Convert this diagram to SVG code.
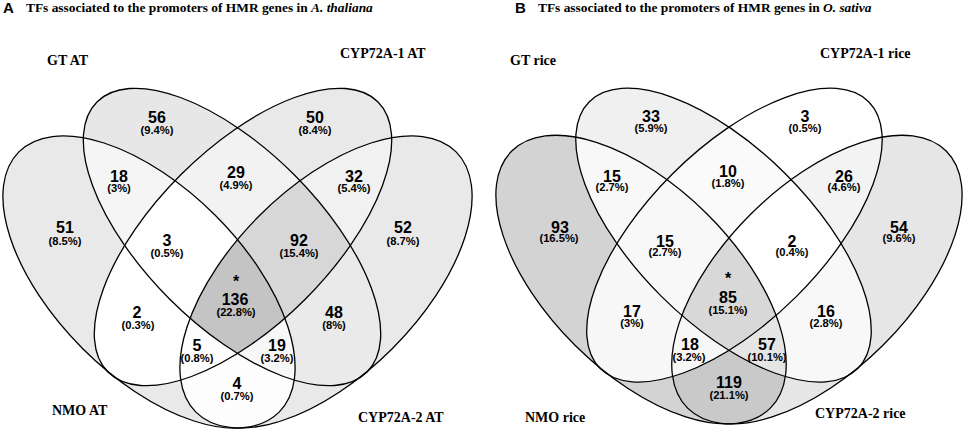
<svg xmlns="http://www.w3.org/2000/svg" xmlns:xlink="http://www.w3.org/1999/xlink" width="964" height="430" viewBox="0 0 964 430">
<style>
.ol{fill:none;stroke:#000;stroke-width:1.3}
.n{font-family:"Liberation Sans",Arial,sans-serif;font-weight:bold;font-size:16px;text-anchor:middle;fill:#000}
.p{font-family:"Liberation Sans",Arial,sans-serif;font-weight:bold;font-size:11.2px;text-anchor:middle;fill:#000}
.st{font-family:"Liberation Sans",Arial,sans-serif;font-weight:bold;font-size:16px;text-anchor:middle;fill:#000}
.t{font-family:"Liberation Serif","Times New Roman",serif;font-weight:bold;font-size:13.4px;fill:#000}
.lab{font-family:"Liberation Serif","Times New Roman",serif;font-weight:bold;font-size:14px;fill:#000}
.pl{font-family:"Liberation Sans",Arial,sans-serif;font-weight:bold;font-size:15px;fill:#000}
</style>
<defs>
<ellipse id="e1" cx="149" cy="282" rx="184" ry="94" transform="rotate(45 149 282)"/>
<ellipse id="e2" cx="232" cy="237" rx="191" ry="88" transform="rotate(45 232 237)"/>
<ellipse id="e3" cx="243" cy="237" rx="191" ry="88" transform="rotate(-45 243 237)"/>
<ellipse id="e4" cx="326" cy="282" rx="184" ry="94" transform="rotate(-45 326 282)"/>
<clipPath id="c1"><use href="#e1"/></clipPath>
<clipPath id="c2"><use href="#e2"/></clipPath>
<clipPath id="c3"><use href="#e3"/></clipPath>
</defs>
<rect width="964" height="430" fill="#fff"/>

<!-- Panel A -->
<g id="panelA">
<g id="A-regions">
<use href="#e1" fill="#e9e9e9"/>
<use href="#e2" fill="#e7e7e7"/>
<use href="#e3" fill="#e9e9e9"/>
<use href="#e4" fill="#e9e9e9"/>
<g clip-path="url(#c1)"><use href="#e2" fill="#f5f5f5"/></g>
<g clip-path="url(#c2)"><use href="#e3" fill="#f2f2f2"/></g>
<g clip-path="url(#c3)"><use href="#e4" fill="#f1f1f1"/></g>
<g clip-path="url(#c1)"><use href="#e3" fill="#fefefe"/></g>
<g clip-path="url(#c2)"><use href="#e4" fill="#eaeaea"/></g>
<g clip-path="url(#c1)"><use href="#e4" fill="#fdfdfd"/></g>
<g clip-path="url(#c1)"><g clip-path="url(#c2)"><use href="#e3" fill="#fefefe"/></g></g>
<g clip-path="url(#c2)"><g clip-path="url(#c3)"><use href="#e4" fill="#d7d7d7"/></g></g>
<g clip-path="url(#c1)"><g clip-path="url(#c3)"><use href="#e4" fill="#fdfdfd"/></g></g>
<g clip-path="url(#c1)"><g clip-path="url(#c2)"><use href="#e4" fill="#f7f7f7"/></g></g>
<g clip-path="url(#c1)"><g clip-path="url(#c2)"><g clip-path="url(#c3)"><use href="#e4" fill="#c4c4c4"/></g></g></g>
</g>
<g id="A-set-GT"><use href="#e1" class="ol"/><text class="lab" x="47" y="65">GT AT</text></g>
<g id="A-set-NMO"><use href="#e2" class="ol"/><text class="lab" x="52" y="415">NMO AT</text></g>
<g id="A-set-CYP72A-2"><use href="#e3" class="ol"/><text class="lab" x="358" y="422">CYP72A-2 AT</text></g>
<g id="A-set-CYP72A-1"><use href="#e4" class="ol"/><text class="lab" x="340" y="58">CYP72A-1 AT</text></g>
<g id="A-title"><text class="pl" x="3" y="13">A</text><text class="t" x="26" y="12">TFs associated to the promoters of HMR genes in <tspan font-style="italic">A. thaliana</tspan></text></g>
<g id="A-counts">
<text class="n" x="157" y="123">56</text><text class="p" x="157" y="134">(9.4%)</text>
<text class="n" x="315" y="123">50</text><text class="p" x="315" y="134">(8.4%)</text>
<text class="n" x="119" y="181.5">18</text><text class="p" x="119" y="192">(3%)</text>
<text class="n" x="236" y="178">29</text><text class="p" x="236" y="189">(4.9%)</text>
<text class="n" x="354" y="181.5">32</text><text class="p" x="354" y="192">(5.4%)</text>
<text class="n" x="65" y="233">51</text><text class="p" x="65" y="245">(8.5%)</text>
<text class="n" x="167" y="246">3</text><text class="p" x="167" y="257">(0.5%)</text>
<text class="n" x="299" y="246">92</text><text class="p" x="299" y="257">(15.4%)</text>
<text class="n" x="403" y="233">52</text><text class="p" x="403" y="245">(8.7%)</text>
<text class="st" x="236" y="287">*</text>
<text class="n" x="235" y="305">136</text><text class="p" x="236" y="316">(22.8%)</text>
<text class="n" x="137" y="318">2</text><text class="p" x="138" y="329">(0.3%)</text>
<text class="n" x="334" y="318">48</text><text class="p" x="334" y="329">(8%)</text>
<text class="n" x="197" y="351">5</text><text class="p" x="197" y="361.5">(0.8%)</text>
<text class="n" x="277" y="351">19</text><text class="p" x="277" y="361.5">(3.2%)</text>
<text class="n" x="237" y="389">4</text><text class="p" x="237" y="400">(0.7%)</text>
</g>
</g>

<!-- Panel B -->
<g id="panelB">
<g transform="matrix(0.9936 0 0 0.988 493 1)">
<g id="B-regions">
<use href="#e1" fill="#d3d3d3"/>
<use href="#e2" fill="#f0f0f0"/>
<use href="#e3" fill="#fefefe"/>
<use href="#e4" fill="#e6e6e6"/>
<g clip-path="url(#c1)"><use href="#e2" fill="#f8f8f8"/></g>
<g clip-path="url(#c2)"><use href="#e3" fill="#fafafa"/></g>
<g clip-path="url(#c3)"><use href="#e4" fill="#f3f3f3"/></g>
<g clip-path="url(#c1)"><use href="#e3" fill="#f7f7f7"/></g>
<g clip-path="url(#c2)"><use href="#e4" fill="#f8f8f8"/></g>
<g clip-path="url(#c1)"><use href="#e4" fill="#c9c9c9"/></g>
<g clip-path="url(#c1)"><g clip-path="url(#c2)"><use href="#e3" fill="#f8f8f8"/></g></g>
<g clip-path="url(#c2)"><g clip-path="url(#c3)"><use href="#e4" fill="#fefefe"/></g></g>
<g clip-path="url(#c1)"><g clip-path="url(#c3)"><use href="#e4" fill="#f7f7f7"/></g></g>
<g clip-path="url(#c1)"><g clip-path="url(#c2)"><use href="#e4" fill="#e5e5e5"/></g></g>
<g clip-path="url(#c1)"><g clip-path="url(#c2)"><g clip-path="url(#c3)"><use href="#e4" fill="#d8d8d8"/></g></g></g>
</g>
<g id="B-outlines">
<use href="#e1" class="ol"/>
<use href="#e2" class="ol"/>
<use href="#e3" class="ol"/>
<use href="#e4" class="ol"/>
</g>
</g>
<g id="B-set-GT"><text class="lab" x="510" y="65">GT rice</text></g>
<g id="B-set-NMO"><text class="lab" x="525" y="422">NMO rice</text></g>
<g id="B-set-CYP72A-2"><text class="lab" x="815" y="418">CYP72A-2 rice</text></g>
<g id="B-set-CYP72A-1"><text class="lab" x="820" y="58">CYP72A-1 rice</text></g>
<g id="B-title"><text class="pl" x="515" y="13">B</text><text class="t" x="538" y="12">TFs associated to the promoters of HMR genes in <tspan font-style="italic">O. sativa</tspan></text></g>
<g id="B-counts">
<text class="n" x="651" y="121.5">33</text><text class="p" x="651" y="132">(5.9%)</text>
<text class="n" x="805" y="121.5">3</text><text class="p" x="805" y="132">(0.5%)</text>
<text class="n" x="612" y="181.5">15</text><text class="p" x="612" y="191">(2.7%)</text>
<text class="n" x="728" y="176.5">10</text><text class="p" x="728" y="186.5">(1.8%)</text>
<text class="n" x="844" y="181.5">26</text><text class="p" x="844" y="191">(4.6%)</text>
<text class="n" x="560" y="233">93</text><text class="p" x="559" y="242">(16.5%)</text>
<text class="n" x="665" y="246.5">15</text><text class="p" x="665" y="256">(2.7%)</text>
<text class="n" x="792" y="246.5">2</text><text class="p" x="792" y="256">(0.4%)</text>
<text class="n" x="899" y="233">54</text><text class="p" x="899" y="242">(9.6%)</text>
<text class="st" x="728" y="284">*</text>
<text class="n" x="728" y="303">85</text><text class="p" x="728" y="313.5">(15.1%)</text>
<text class="n" x="632" y="316.5">17</text><text class="p" x="632" y="326.5">(3%)</text>
<text class="n" x="826" y="316.5">16</text><text class="p" x="826" y="326.5">(2.8%)</text>
<text class="n" x="690" y="350">18</text><text class="p" x="689" y="360.5">(3.2%)</text>
<text class="n" x="767" y="350">57</text><text class="p" x="767" y="360.5">(10.1%)</text>
<text class="n" x="729" y="388">119</text><text class="p" x="729" y="398.5">(21.1%)</text>
</g>
</g>
</svg>
